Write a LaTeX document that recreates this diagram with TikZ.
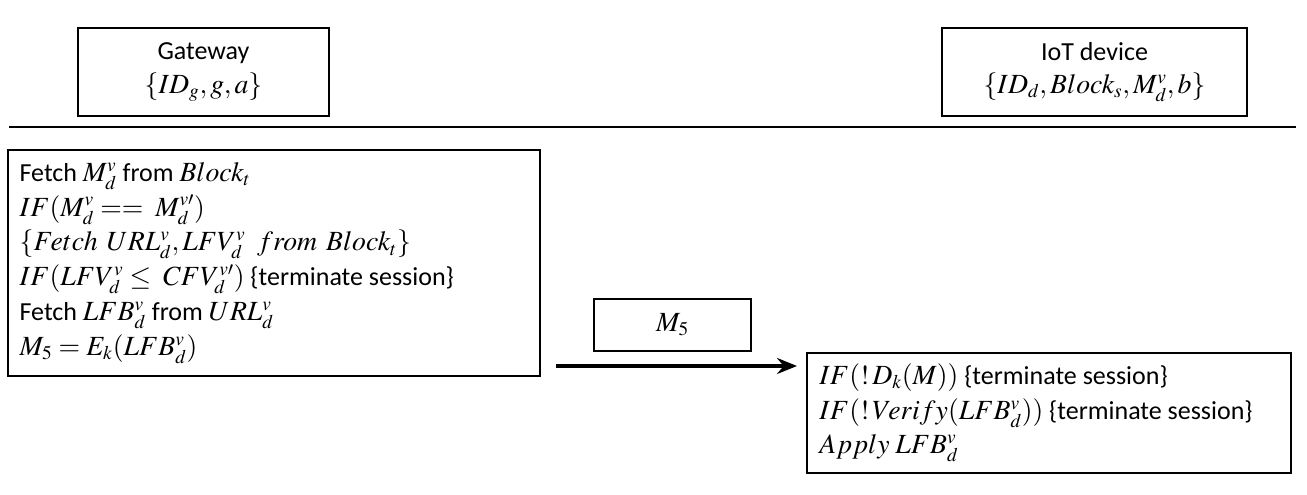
\documentclass[tikz,border=0pt]{standalone}
\usepackage{mathptmx}
\usepackage[no-math]{fontspec}
\setmainfont{Carlito}
\DeclareMathSizes{19.5}{20.8}{14.5}{11}
\usetikzlibrary{arrows.meta}
\tikzset{
  box/.style={draw=black, line width=0.9pt, inner sep=0pt, font=\fontsize{19.5}{26}\selectfont},
  frame/.style={draw=black, line width=0.9pt, inner sep=0pt},
  listtext/.style={align=left, inner sep=0pt, anchor=west},
  msgarrow/.style={line width=2.4pt, -{Stealth[length=15pt,width=12pt,inset=5pt]}},
  sepline/.style={line width=1.5pt}
}
\begin{document}
\begin{tikzpicture}[x=0.75pt,y=-0.75pt]
\useasboundingbox (0,0) rectangle (1307,495);
\setlength{\lineskiplimit}{-20pt}
% top boxes
\node[box, align=center, minimum width=188.25pt, minimum height=66pt] (gw) at (203.5,72)
  {Gateway\\[-1pt]$\{ID_g,g,a\}$};
\node[box, align=center, minimum width=228.75pt, minimum height=66pt] (iot) at (1094.5,72)
  {IoT device\\[-1pt]$\{ID_d,Block_s,M_d^v,b\}$};
% separator
\coordinate (s1) at (9,127);
\coordinate (s2) at (1296,127);
\draw[sepline] (s1) -- (s2);
% gateway computation
\node[frame, minimum width=399pt, minimum height=169.5pt] (gcomp) at (274,263) {};
\node[listtext, font=\fontsize{19.5}{26.2}\selectfont] (gtext) at ([xshift=9pt]gcomp.west) {%
Fetch $M_d^v$ from $Block_t$\\
$IF(M_d^v ==\ M_d^{v\prime})$\\
$\{Fetch\ \,URL_d^v, LFV_d^v\ \ from\ \,Block_t\}$\\
$IF(LFV_d^v \le\ CFV_d^{v\prime})$ \{terminate session\}\\
Fetch $LFB_d^v$ from $URL_d^v$\\
$M_5=E_k(LFB_d^v)$};
% message box
\node[box, minimum width=117.75pt, minimum height=39pt] (msg) at (672.5,325) {$M_5$};
% device computation
\node[frame, minimum width=363pt, minimum height=90pt] (dcomp) at (1049,413) {};
\node[listtext, font=\fontsize{19.5}{26}\selectfont] (dtext) at ([xshift=9.5pt]dcomp.west) {%
$IF(!\,D_k(M))$ \{terminate session\}\\
$IF(!\,Verify(LFB_d^v))$ \{terminate session\}\\
$Apply\ LFB_d^v$};
% arrow
\coordinate (a1) at (556,366);
\coordinate (a2) at (797,366);
\draw[msgarrow] (a1) -- (a2);
\end{tikzpicture}
\end{document}
